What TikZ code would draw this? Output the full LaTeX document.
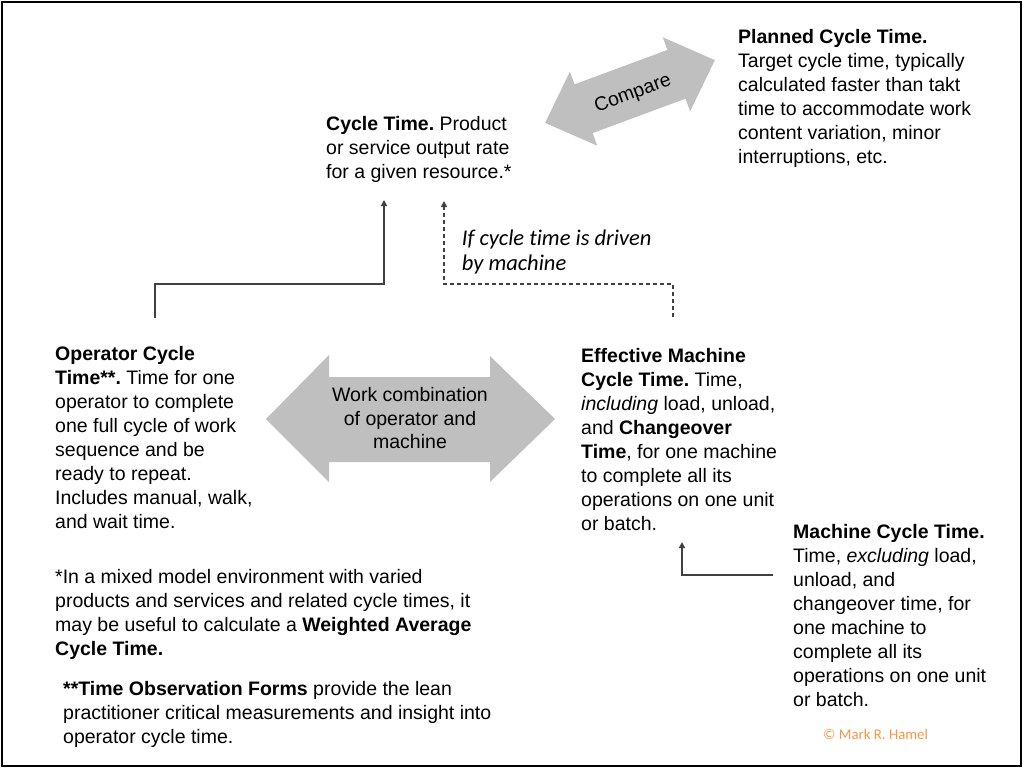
\documentclass[tikz,border=0pt]{standalone}
\usepackage{fontspec}
\setmainfont{Liberation Sans}
\newfontfamily\calibri[Ligatures=NoCommon]{Carlito}
\usetikzlibrary{arrows.meta}
\definecolor{arrowgray}{RGB}{191,191,191}
\definecolor{linegray}{RGB}{64,64,64}
\definecolor{copyorange}{RGB}{247,150,70}
\newcommand{\bodyfont}{\fontsize{19.5}{24}\selectfont}
\frenchspacing
\tikzset{
  txt/.style={anchor=north west, inner sep=0pt, align=left, font=\bodyfont},
  bigarrow/.style={fill=arrowgray, draw=none},
  conn/.style={draw=linegray, line width=1.3pt, -{Triangle[length=6pt,width=6pt]}},
  dconn/.style={conn, dash pattern=on 4pt off 3pt},
}
\begin{document}
\begin{tikzpicture}[x=1pt,y=-1pt]
\useasboundingbox (0,0) rectangle (1024,769);
\draw[line width=2pt] (1.5,1.5) rectangle (1020.5,765.5);

% compare arrow
\begin{scope}[shift={(630,91.5)}, rotate=20.3]
\fill[bigarrow] (-90.5,0) -- (-49.5,-39.5) -- (-49.5,-26) -- (49.5,-26) -- (49.5,-39.5) -- (90.5,0) -- (49.5,39.5) -- (49.5,26) -- (-49.5,26) -- (-49.5,39.5) -- cycle;
\end{scope}
\node[inner sep=0pt, rotate=20.3, font=\fontsize{19.5}{24}\selectfont] (cmp) at (633,94) {Compare};

% work combination arrow
\fill[bigarrow] (266,419) -- (329,355) -- (329,377) -- (490,377) -- (490,356) -- (555,419) -- (490,482) -- (490,462) -- (329,462) -- (329,482) -- cycle;
\node[inner sep=0pt, align=center, font=\fontsize{19.5}{23.5}\selectfont] (wc) at (410,418.5) {Work combination\\of operator and\\machine};

% text blocks
\node[txt] (pct) at (738,26.2) {\strut\textbf{Planned Cycle Time.}\\Target cycle time, typically\\calculated faster than takt\\time to accommodate work\\content variation, minor\\interruptions, etc.};

\node[txt] (ct) at (326,113.5) {\strut\textbf{Cycle Time.} Product\\or service output rate\\for a given resource.*};

\node[txt] (op) at (55,343.5) {\strut\textbf{Operator Cycle}\\\textbf{Time**.} Time for one\\operator to complete\\one full cycle of work\\sequence and be\\ready to repeat.\\Includes manual, walk,\\and wait time.};

\node[txt] (emc) at (581,345) {\strut\textbf{Effective Machine}\\\textbf{Cycle Time.} Time,\\\textit{including} load, unload,\\and \textbf{Changeover}\\\textbf{Time}, for one machine\\to complete all its\\operations on one unit\\or batch.};

\node[txt] (mct) at (793,521.5) {\strut\textbf{Machine Cycle Time.}\\Time, \textit{excluding} load,\\unload, and\\changeover time, for\\one machine to\\complete all its\\operations on one unit\\or batch.};

\node[txt] (fn1) at (55,566.2) {\strut*In a mixed model environment with varied\\products and services and related cycle times, it\\may be useful to calculate a \textbf{Weighted Average}\\\textbf{Cycle Time.}};

\node[txt] (fn2) at (63,678.5) {\strut\textbf{**Time Observation Forms} provide the lean\\practitioner critical measurements and insight into\\operator cycle time.};

\node[txt, font=\calibri\itshape\fontsize{22.5}{25}\selectfont] (drv) at (461.7,227.5) {\strut If cycle time is driven\\by machine};

\node[anchor=base west, inner sep=0pt, text=copyorange, font=\calibri\fontsize{14.8}{18}\selectfont] (copy) at (823,739) {\textcopyright{} Mark R. Hamel};

% connectors
\coordinate (opOut) at (155,318);
\coordinate (ctIn1) at (384,200);
\coordinate (emcOut) at (673,317);
\coordinate (ctIn2) at (444,201);
\coordinate (mctOut) at (773,575);
\coordinate (emcIn) at (682,542);
\draw[conn] (opOut) -- ++(0,-34) -| (ctIn1);
\draw[dconn] (emcOut) -- ++(0,-33) -| (ctIn2);
\draw[conn] (mctOut) -| (emcIn);
\end{tikzpicture}
\end{document}
